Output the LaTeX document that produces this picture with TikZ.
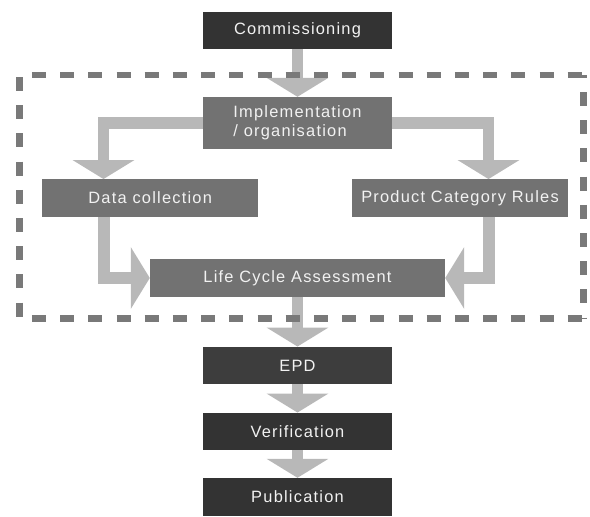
\documentclass[tikz,border=0pt]{standalone}
\usepackage{fontspec}
\setmainfont{Liberation Sans}[LetterSpace=7.5]
\usetikzlibrary{arrows.meta}

\definecolor{darkfill}{HTML}{333333}
\definecolor{epdfill}{HTML}{3D3D3D}
\definecolor{midfill}{HTML}{727272}
\definecolor{flowgray}{HTML}{B8B8B8}
\definecolor{framegray}{HTML}{797979}
\definecolor{labelwhite}{HTML}{F2F2F2}

\begin{document}
\begin{tikzpicture}[x=1pt,y=-1pt,
  box/.style={inner sep=0pt, minimum width=189pt, minimum height=37.5pt,
    text=labelwhite, font=\fontsize{16.4}{19}\selectfont},
  darkbox/.style={box, fill=darkfill},
  midbox/.style={box, fill=midfill},
  flow/.style={draw=flowgray, line width=11.5pt,
    -{Triangle[length=19pt,width=61pt]}},
  frame/.style={draw=framegray, line width=6.5pt, dash pattern=on 14pt off 14.2pt}
]
\useasboundingbox (0,0) rectangle (590,517);

% process steps
\node[darkbox] (comm) at (297.5,30.5) {Commissioning};
\node[midbox, minimum height=52pt, align=left] (impl) at (297.5,123)
  {Implementation\\/ organisation};
\node[midbox, minimum width=215.5pt] (data) at (150.2,198) {Data collection};
\node[midbox, minimum width=215.5pt] (pcr) at (460,198) {Product Category Rules};
\node[midbox, minimum width=295pt] (lca) at (297.5,278) {Life Cycle Assessment};
\node[box, fill=epdfill] (epd) at (297.5,365.5) {EPD};
\node[darkbox] (ver) at (297.5,431.5) {Verification};
\node[darkbox, minimum height=38pt] (pub) at (297.5,497) {Publication};

% flow arrows
\draw[flow] (comm.south) -- (impl.north);
\draw[flow] (impl.west) -| ([xshift=-46.7pt]data.north);
\draw[flow] (impl.east) -| ([xshift=28.5pt]pcr.north);
\draw[flow] ([xshift=-46pt]data.south) |- (lca.west);
\draw[flow] ([xshift=29pt]pcr.south) |- (lca.east);
\draw[flow] (lca.south) -- (epd.north);
\draw[flow] (epd.south) -- (ver.north);
\draw[flow] (ver.south) -- (pub.north);

% dashed boundary round the assessment stage, one side at a time
\coordinate (tl) at (19.7,75);
\coordinate (tr) at (583.5,75);
\coordinate (bl) at (19.7,318.5);
\coordinate (br) at (583.5,318.5);
\draw[frame, dash phase=16pt] (tl) -- (tr);
\draw[frame, dash phase=16pt] (bl) -- (br);
\draw[frame, dash phase=26.2pt] (tl) -- (bl);
\draw[frame, dash phase=11.2pt] (tr) -- (br);
\end{tikzpicture}
\end{document}
